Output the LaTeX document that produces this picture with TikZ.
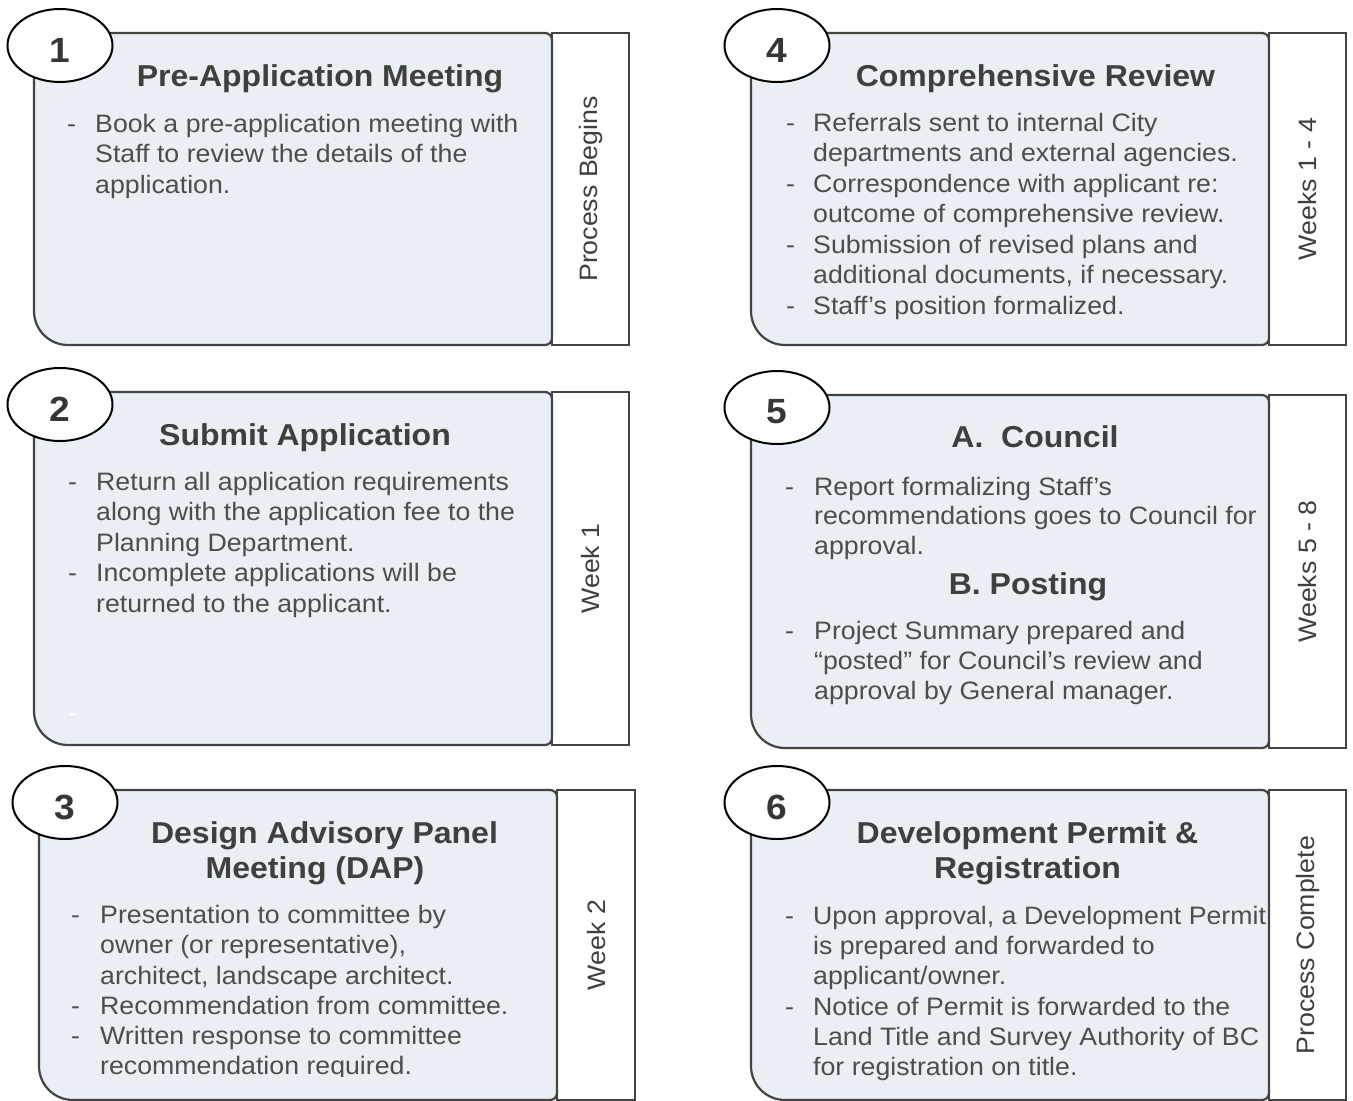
\documentclass[tikz,border=0pt]{standalone}
\usepackage{fontspec}
\setmainfont{Liberation Sans}[FakeStretch=1.06]
\usetikzlibrary{shapes.geometric}
\definecolor{boxfill}{HTML}{EAEFF5}
\definecolor{edgec}{HTML}{434343}
\definecolor{titlec}{HTML}{3F3F3F}
\definecolor{bodyc}{HTML}{4D4D4D}
\definecolor{numc}{HTML}{363636}
\tikzset{
  boxline/.style={draw=edgec, line width=2.2pt, fill=boxfill},
  colline/.style={draw=edgec, line width=2.2pt, fill=white},
  numell/.style={ellipse, draw=black, line width=2pt, fill=white, minimum width=105pt, minimum height=73pt, inner sep=0pt},
  numtxt/.style={inner sep=0pt, text=numc, font=\fontsize{35}{40}\selectfont\bfseries},
  titletxt/.style={anchor=base, inner sep=0pt, text=titlec, font=\fontsize{30.2}{35}\selectfont\bfseries},
  bodytxt/.style={anchor=base west, inner sep=0pt, text=bodyc, font=\fontsize{25.2}{30}\selectfont},
  coltxt/.style={rotate=90, inner sep=0pt, text=titlec, font=\fontsize{25.2}{30}\selectfont},
}
% main box: left, top, right, bottom (y grows downward)
\newcommand{\mainbox}[4]{%
  \draw[boxline] (#1,#2) -- ({#3-7},#2) .. controls ({#3-3.1},#2) and (#3,{#2+3.1}) .. (#3,{#2+7})
    -- (#3,{#4-7}) .. controls (#3,{#4-3.1}) and ({#3-3.1},#4) .. ({#3-7},#4)
    -- ({#1+34},#4) .. controls ({#1+15.2},#4) and (#1,{#4-15.2}) .. (#1,{#4-34}) -- cycle;}
\newcommand{\bitem}[5]{\node[bodytxt] (#1d) at (#2,#4) {-}; \node[bodytxt] (#1) at (#3,#4) {#5};}
\newcommand{\contline}[4]{\node[bodytxt] (#1) at (#2,#3) {#4};}
\begin{document}
\begin{tikzpicture}[x=1pt,y=-1pt]
\useasboundingbox (0,0) rectangle (1353,1101);
\fill[white] (0,0) rectangle (1353,1101);

% ---------- Box 1 ----------
\draw[colline] (552,33) rectangle (629,345);
\mainbox{34}{33}{552}{345}
\node[numell] (e1) at (60,45.5) {};
\node[numtxt] (n1) at (60,50) {1};
\node[titletxt] (t1) at (320,86) {Pre-Application Meeting};
\bitem{b1a}{67}{95}{132}{Book a pre-application meeting with}
\contline{b1b}{95}{162.5}{Staff to review the details of the}
\contline{b1c}{95}{193}{application.}
\node[coltxt] (c1) at (590.5,189) {Process Begins};

% ---------- Box 2 ----------
\draw[colline] (552,392) rectangle (629,745);
\mainbox{34}{392}{552}{745}
\node[numell] (e2) at (60,404.5) {};
\node[numtxt] (n2) at (60,409) {2};
\node[titletxt] (t2) at (305,445) {Submit Application};
\bitem{b2a}{68}{96}{490}{Return all application requirements}
\contline{b2b}{96}{520.5}{along with the application fee to the}
\contline{b2c}{96}{551}{Planning Department.}
\bitem{b2e}{68}{96}{581.5}{Incomplete applications will be}
\contline{b2f}{96}{612}{returned to the applicant.}
\node[bodytxt, text=white] (b2x) at (68,721) {-};
\node[coltxt] (c2) at (590.5,568.5) {Week 1};

% ---------- Box 3 ----------
\draw[colline] (557,790) rectangle (635,1100);
\mainbox{39}{790}{557}{1100}
\node[numell] (e3) at (65,802.5) {};
\node[numtxt] (n3) at (65,807) {3};
\node[titletxt] (t3a) at (324.5,843) {Design Advisory Panel};
\node[titletxt] (t3b) at (315,878) {Meeting (DAP)};
\bitem{b3a}{71}{100}{923.5}{Presentation to committee by}
\contline{b3b}{100}{953.7}{owner (or representative),}
\contline{b3c}{100}{984}{architect, landscape architect.}
\bitem{b3d}{71}{100}{1014}{Recommendation from committee.}
\bitem{b3e}{71}{100}{1044}{Written response to committee}
\begin{scope}
\clip (0,0) rectangle (1353,1076.5);
\contline{b3f}{100}{1074.5}{recommendation required.}
\end{scope}
\node[coltxt] (c3) at (596,945) {Week 2};

% ---------- Box 4 ----------
\draw[colline] (1269,33) rectangle (1346,345);
\mainbox{751}{33}{1269}{345}
\node[numell] (e4) at (777,45.5) {};
\node[numtxt] (n4) at (777,50) {4};
\node[titletxt] (t4) at (1035.5,86) {Comprehensive Review};
\bitem{b4a}{786}{813}{131}{Referrals sent to internal City}
\contline{b4b}{813}{161.5}{departments and external agencies.}
\bitem{b4c}{786}{813}{192}{Correspondence with applicant re:}
\contline{b4d}{813}{222.5}{outcome of comprehensive review.}
\bitem{b4e}{786}{813}{253}{Submission of revised plans and}
\contline{b4f}{813}{283.5}{additional documents, if necessary.}
\bitem{b4g}{786}{813}{314}{Staff’s position formalized.}
\node[coltxt] (c4) at (1307.5,189) {Weeks 1 - 4};

% ---------- Box 5 ----------
\draw[colline] (1269,395) rectangle (1346,748);
\mainbox{751}{395}{1269}{748}
\node[numell] (e5) at (777,407.5) {};
\node[numtxt] (n5) at (777,412) {5};
\node[titletxt] (t5a) at (1035,447.5) {A.\ \ Council};
\bitem{b5a}{785}{814}{495}{Report formalizing Staff’s}
\contline{b5b}{814}{524.5}{recommendations goes to Council for}
\contline{b5c}{814}{554}{approval.}
\node[titletxt] (t5b) at (1028,594) {B. Posting};
\bitem{b5d}{785}{814}{639}{Project Summary prepared and}
\contline{b5e}{814}{669}{“posted” for Council’s review and}
\contline{b5f}{814}{699}{approval by General manager.}
\node[coltxt] (c5) at (1307.5,571.5) {Weeks 5 - 8};

% ---------- Box 6 ----------
\draw[colline] (1269,790) rectangle (1346,1100);
\mainbox{751}{790}{1269}{1100}
\node[numell] (e6) at (777,802.5) {};
\node[numtxt] (n6) at (777,807) {6};
\node[titletxt] (t6a) at (1027.5,843) {Development Permit \&};
\node[titletxt] (t6b) at (1027.5,878) {Registration};
\bitem{b6a}{785}{813}{924}{Upon approval, a Development Permit}
\contline{b6b}{813}{954}{is prepared and forwarded to}
\contline{b6c}{813}{984}{applicant/owner.}
\bitem{b6d}{785}{813}{1015}{Notice of Permit is forwarded to the}
\contline{b6e}{813}{1045}{Land Title and Survey Authority of BC}
\contline{b6f}{813}{1075}{for registration on title.}
\node[coltxt] (c6) at (1307.5,945) {Process Complete};
\end{tikzpicture}
\end{document}
